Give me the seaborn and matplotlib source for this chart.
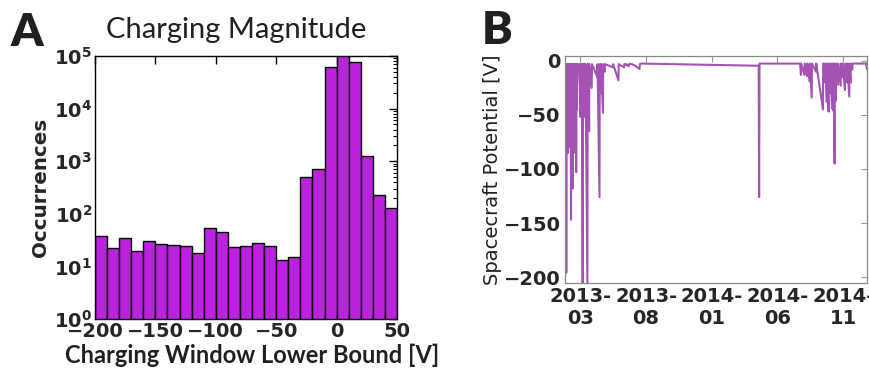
import numpy as np
import pandas as pd
import seaborn as sns
import matplotlib.pyplot as plt
from matplotlib.ticker import LogLocator, NullFormatter, FixedLocator

# panel A: histogram of charging window lower bound (10 V bins)
bin_left = [-200, -190, -180, -170, -160, -150, -140, -130, -120, -110,
            -100, -90, -80, -70, -60, -50, -40, -30, -20, -10,
            0, 10, 20, 30, 40]
occurrences = [37, 22, 35, 20, 30, 27, 26, 24, 18, 53,
               46, 23, 24, 28, 24, 13, 15, 510, 720, 62000,
               130000, 78000, 1230, 225, 128]
bin_edges = bin_left + [50]

# panel B: spacecraft potential time series
times = [
    "2013-01-25 00:00", "2013-01-25 12:00", "2013-01-26 00:00", "2013-01-26 12:00",
    "2013-01-27 00:00", "2013-01-27 12:00", "2013-01-28 00:00", "2013-01-28 12:00",
    "2013-01-29 00:00", "2013-01-29 12:00", "2013-01-30 00:00", "2013-01-30 12:00",
    "2013-01-31 00:00", "2013-01-31 12:00", "2013-02-01 00:00", "2013-02-01 12:00",
    "2013-02-02 00:00", "2013-02-02 12:00", "2013-02-03 00:00", "2013-02-03 12:00",
    "2013-02-04 00:00", "2013-02-04 12:00", "2013-02-05 00:00", "2013-02-05 12:00",
    "2013-02-06 00:00", "2013-02-06 12:00", "2013-02-07 00:00", "2013-02-07 12:00",
    "2013-02-08 00:00", "2013-02-08 12:00", "2013-02-09 00:00", "2013-02-09 12:00",
    "2013-02-10 00:00", "2013-02-10 12:00", "2013-02-11 00:00", "2013-02-11 12:00",
    "2013-02-12 00:00", "2013-02-12 12:00", "2013-02-13 00:00", "2013-02-13 12:00",
    "2013-02-14 00:00", "2013-02-14 12:00", "2013-02-15 00:00", "2013-02-15 12:00",
    "2013-02-16 00:00", "2013-02-16 12:00", "2013-02-17 00:00", "2013-02-17 12:00",
    "2013-02-18 00:00", "2013-02-18 12:00", "2013-02-19 00:00", "2013-02-19 12:00",
    "2013-02-20 00:00", "2013-02-20 12:00", "2013-02-21 00:00", "2013-02-21 12:00",
    "2013-02-22 00:00", "2013-02-23 00:00", "2013-02-26 00:00", "2013-02-27 00:00",
    "2013-03-02 00:00", "2013-03-02 12:00", "2013-03-03 00:00", "2013-03-03 12:00",
    "2013-03-04 00:00", "2013-03-04 12:00", "2013-03-05 00:00", "2013-03-05 12:00",
    "2013-03-07 00:00", "2013-03-07 12:00", "2013-03-09 00:00", "2013-03-09 12:00",
    "2013-03-11 00:00", "2013-03-11 12:00", "2013-03-13 00:00", "2013-03-13 12:00",
    "2013-03-18 00:00", "2013-03-18 12:00", "2013-03-20 00:00", "2013-03-20 12:00",
    "2013-03-22 00:00", "2013-03-22 12:00", "2013-03-28 00:00", "2013-03-28 12:00",
    "2013-04-10 00:00", "2013-04-10 12:00", "2013-04-15 00:00", "2013-04-15 12:00",
    "2013-04-18 00:00", "2013-04-18 12:00", "2013-04-23 00:00", "2013-04-23 12:00",
    "2013-04-27 00:00", "2013-04-27 12:00", "2013-05-16 00:00", "2013-05-16 12:00",
    "2013-05-29 00:00", "2013-05-29 12:00", "2013-06-11 00:00", "2013-06-11 12:00",
    "2013-06-15 00:00", "2013-06-15 12:00", "2013-06-22 00:00", "2013-06-22 12:00",
    "2013-06-28 00:00", "2013-07-05 00:00", "2013-07-17 00:00", "2013-07-17 12:00",
    "2013-07-20 00:00", "2014-04-19 00:00", "2014-04-20 00:00", "2014-04-21 00:00",
    "2014-07-24 00:00", "2014-07-26 00:00", "2014-07-26 12:00", "2014-08-03 00:00",
    "2014-08-03 12:00", "2014-08-09 00:00", "2014-08-09 12:00", "2014-08-15 00:00",
    "2014-08-15 12:00", "2014-08-20 00:00", "2014-08-20 12:00", "2014-08-30 00:00",
    "2014-08-30 12:00", "2014-09-15 00:00", "2014-09-15 12:00", "2014-09-20 00:00",
    "2014-09-20 12:00", "2014-09-24 00:00", "2014-09-24 12:00", "2014-09-28 00:00",
    "2014-09-28 12:00", "2014-10-02 00:00", "2014-10-02 12:00", "2014-10-06 00:00",
    "2014-10-06 12:00", "2014-10-09 00:00", "2014-10-09 12:00", "2014-10-12 00:00",
    "2014-10-12 12:00", "2014-10-15 00:00", "2014-10-15 12:00", "2014-10-20 00:00",
    "2014-10-20 12:00", "2014-10-26 00:00", "2014-10-26 12:00", "2014-10-30 00:00",
    "2014-10-30 12:00", "2014-11-05 00:00", "2014-11-05 12:00", "2014-11-10 00:00",
    "2014-11-10 12:00", "2014-11-15 00:00", "2014-11-15 12:00", "2014-11-18 00:00",
    "2014-11-18 12:00", "2014-11-22 00:00", "2014-11-22 12:00", "2014-12-24 00:00",
    "2014-12-26 00:00",
]
potential = [
    -28, -3, -55, -3,
    -80, -3, -196, -3,
    -60, -3, -75, -3,
    -45, -3, -85, -3,
    -55, -3, -70, -3,
    -50, -3, -65, -3,
    -80, -3, -60, -3,
    -147, -3, -75, -3,
    -55, -3, -90, -3,
    -118, -3, -70, -3,
    -60, -3, -85, -3,
    -50, -3, -75, -3,
    -40, -3, -65, -3,
    -103, -3, -45, -3,
    -20, -3, -8, -3,
    -52, -3, -48, -3,
    -40, -3, -50, -3,
    -206, -3, -50, -3,
    -30, -3, -52, -3,
    -206, -3, -45, -3,
    -65, -3, -25, -3,
    -15, -3, -126, -3,
    -30, -3, -48, -3,
    -10, -3, -6, -3,
    -18, -3, -6, -3,
    -4, -3, -5, -3,
    -3, -4, -7.5, -3,
    -2.5, -4.5, -126, -2.5,
    -2.5, -13, -2.5, -13,
    -2.5, -14, -2.5, -19,
    -2.5, -34, -2.5, -10,
    -2.5, -45, -2.5, -20,
    -2.5, -38, -2.5, -47,
    -2.5, -30, -2.5, -44,
    -2.5, -46, -2.5, -95,
    -2.5, -37, -2.5, -22,
    -2.5, -23, -2.5, -15,
    -2.5, -27, -2.5, -20,
    -2.5, -33, -2.5, -20,
    -2.5, -8, -2.5, -2.5,
    -8,
]

date_ticks = ["2013-03-01", "2013-08-01", "2014-01-01", "2014-06-01", "2014-11-01"]
date_labels = ["2013-\n03", "2013-\n08", "2014-\n01", "2014-\n06", "2014-\n11"]

sns.set_theme(style="white")
plt.rcParams['font.family'] = ['DejaVu Sans']
plt.rcParams['font.weight'] = 'bold'
plt.rcParams['mathtext.default'] = 'bf'
plt.rcParams['xtick.direction'] = 'in'
plt.rcParams['ytick.direction'] = 'in'
plt.rcParams['xtick.top'] = True
plt.rcParams['ytick.right'] = True

fig = plt.figure(figsize=(8.7, 3.68), dpi=100)

# ---- panel A
axA = fig.add_axes([0.1092, 0.1332, 0.3471, 0.7147])
hist_df = pd.DataFrame({'lower': np.array(bin_left) + 5, 'count': occurrences})
sns.histplot(data=hist_df, x='lower', weights='count', bins=bin_edges, ax=axA,
             color='#bb22dd', edgecolor='black', linewidth=1.0, alpha=1)
axA.set_yscale('log')
axA.set_ylim(1, 1e5)
axA.set_xlim(-200, 50)
axA.set_xticks([-200, -150, -100, -50, 0, 50])
axA.yaxis.set_major_locator(LogLocator(base=10))
axA.yaxis.set_minor_locator(LogLocator(base=10, subs=np.arange(2, 10)))
axA.yaxis.set_minor_formatter(NullFormatter())
axA.tick_params(axis='both', which='major', labelsize=14, length=6, width=1, color='black', pad=2)
axA.tick_params(axis='y', which='minor', length=3, width=0.8, color='black')
axA.set_xlabel('')
axA.set_ylabel('Occurrences', fontsize=14.3, fontweight='bold', labelpad=3)
for sp in axA.spines.values():
    sp.set_color('black')
    sp.set_linewidth(1.0)

fig.text(236 / 870, 1 - 30 / 368, 'Charging Magnitude', family=['Lato', 'DejaVu Sans'],
         fontsize=21, fontweight='normal', color='#231f20', ha='center', va='center')
fig.text(252 / 870, 1 - 355 / 368, 'Charging Window Lower Bound [V]', family=['Lato', 'DejaVu Sans'],
         fontsize=17, fontweight='bold', color='#231f20', ha='center', va='center')
fig.text(27 / 870, 1 - 33 / 368, 'A', family=['Lato', 'DejaVu Sans'], fontsize=33,
         fontweight='heavy', color='#231f20', ha='center', va='center')

# ---- panel B
axB = fig.add_axes([0.6494, 0.231, 0.3471, 0.6168])
ts = pd.DataFrame({'time': pd.to_datetime(times), 'potential': potential})
sns.lineplot(data=ts, x='time', y='potential', ax=axB, color='#a552b5',
             linewidth=1.5, estimator=None)
axB.set_xlim(pd.Timestamp('2013-01-25'), pd.Timestamp('2014-12-26'))
axB.set_ylim(-205.5, 4.5)
axB.set_yticks([0, -50, -100, -150, -200])
axB.xaxis.set_major_locator(FixedLocator([pd.Timestamp(d).toordinal() - pd.Timestamp('1970-01-01').toordinal()
                                          for d in date_ticks]))
axB.set_xticklabels(date_labels, linespacing=1.2)
axB.tick_params(axis='both', which='major', labelsize=14, length=4, width=0.8, color='#999999', pad=3)
axB.set_xlabel('')
axB.set_ylabel('Spacecraft Potential [V]', fontsize=14, fontweight='normal', color='#231f20', labelpad=1)
for sp in axB.spines.values():
    sp.set_color('#888888')
    sp.set_linewidth(0.9)
fig.text(497 / 870, 1 - 31 / 368, 'B', family=['Lato', 'DejaVu Sans'], fontsize=33,
         fontweight='heavy', color='#231f20', ha='center', va='center')

fig.savefig('out.png', dpi=100)
